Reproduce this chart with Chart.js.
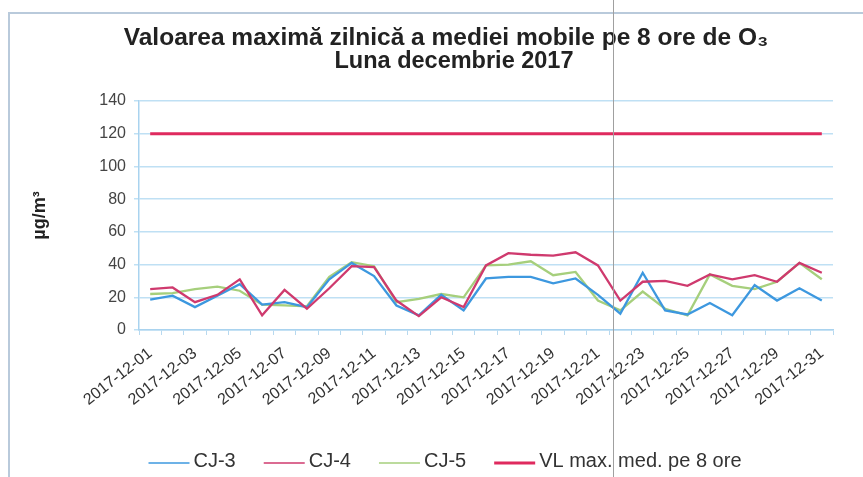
<!DOCTYPE html>
<html><head><meta charset="utf-8">
<script src="https://cdn.jsdelivr.net/npm/chart.js@4.4.0/dist/chart.umd.min.js"></script>
<style>
html,body{margin:0;padding:0;background:#fff;}
#wrap{position:relative;width:863px;height:477px;overflow:hidden;}
canvas{position:absolute;left:0;top:0;}
#frame{position:absolute;left:8px;top:12px;width:870px;height:480px;border-top:2px solid #b9cadb;border-left:2px solid #b9cadb;pointer-events:none;}
#fold{position:absolute;left:613px;top:0;width:1px;height:477px;background:#a0a0a0;pointer-events:none;}
</style></head><body>
<div id="wrap"><canvas id="c" width="863" height="477"></canvas><div id="frame"></div><div id="fold"></div></div>
<script>
const days = ["2017-12-01","2017-12-02","2017-12-03","2017-12-04","2017-12-05","2017-12-06","2017-12-07","2017-12-08","2017-12-09","2017-12-10","2017-12-11","2017-12-12","2017-12-13","2017-12-14","2017-12-15","2017-12-16","2017-12-17","2017-12-18","2017-12-19","2017-12-20","2017-12-21","2017-12-22","2017-12-23","2017-12-24","2017-12-25","2017-12-26","2017-12-27","2017-12-28","2017-12-29","2017-12-30","2017-12-31"];
const cj3 = [18.5,21,14,21,28,15.5,17,14,31,41,33,15,9,21.5,12,31.5,32.5,32.5,28.5,31.5,21.5,10,35,12,9.5,16.5,9,27.5,18,25.5,18];
const cj4 = [25,26,17,21.5,31,9,24.5,13,25.5,39,38.5,18,8.5,20,14,39.5,47,46,45.5,47.5,39.5,18,29.5,30,27,34,31,33.5,29.5,41,35];
const cj5 = [22,22.5,25,26.5,24,15.5,15,14.5,32.5,41.5,39,17,19,22,20,39.5,40,42,33.5,35.5,18,12,23.5,13,9,34,27,25,29.5,41,31];
const vl = [120,120,120,120,120,120,120,120,120,120,120,120,120,120,120,120,120,120,120,120,120,120,120,120,120,120,120,120,120,120,120];
const yTicks = [0,20,40,60,80,100,120,140];
const titleLines = ["Valoarea maximă zilnică a mediei mobile pe 8 ore de O\u2083","Luna decembrie 2017"];
const seriesNames = ["CJ-3","CJ-4","CJ-5","VL max. med. pe 8 ore"];

const FONT = "'Liberation Sans', Arial, sans-serif";

const titlePlugin = {
  id: 'customTitle',
  afterDraw(chart) {
    const ctx = chart.ctx;
    ctx.save();
    ctx.fillStyle = '#222';
    ctx.textAlign = 'center';
    ctx.textBaseline = 'middle';
    ctx.font = "bold 24.5px " + FONT;
    ctx.fillText(titleLines[0], 446, 38);
    ctx.font = "bold 23.5px " + FONT;
    ctx.fillText(titleLines[1], 454, 62);
    ctx.restore();
  }
};

const legendPlugin = {
  id: 'customLegend',
  afterDraw(chart) {
    const ctx = chart.ctx;
    ctx.save();
    ctx.font = "20px " + FONT;
    ctx.textBaseline = 'middle';
    let x = chart.chartArea.left + 9.5;
    const y = 461;
    chart.data.datasets.forEach((ds, i) => {
      ctx.strokeStyle = ds.borderColor;
      ctx.lineWidth = i === 3 ? 3 : 1.5;
      ctx.beginPath();
      ctx.moveTo(x, y + 2);
      ctx.lineTo(x + 41, y + 2);
      ctx.stroke();
      ctx.fillStyle = '#333';
      ctx.fillText(ds.label, x + 45, y);
      x += 45 + ctx.measureText(ds.label).width + 28;
    });
    ctx.restore();
  }
};

new Chart(document.getElementById('c'), {
  type: 'line',
  data: {
    labels: days,
    datasets: [
      {label: seriesNames[0], data: cj3, borderColor: '#3d98df', borderWidth: 2.3, pointRadius: 0, tension: 0, order: 2},
      {label: seriesNames[1], data: cj4, borderColor: '#cf3a6e', borderWidth: 2.3, pointRadius: 0, tension: 0, order: 1},
      {label: seriesNames[2], data: cj5, borderColor: '#a6cf7c', borderWidth: 2.3, pointRadius: 0, tension: 0, order: 3},
      {label: seriesNames[3], data: vl, borderColor: '#df2a5e', borderWidth: 3, pointRadius: 0, tension: 0, order: 0}
    ]
  },
  options: {
    responsive: false,
    animation: false,
    devicePixelRatio: 1,
    layout: {padding: {left: 0, right: 30, top: 101, bottom: 40}},
    plugins: {
      legend: {display: false},
      tooltip: {enabled: false},
      title: {display: false}
    },
    scales: {
      x: {
        type: 'category',
        offset: true,
        grid: {display: true, drawOnChartArea: false, drawTicks: true, tickLength: 5, color: '#b8d9ef', offset: true},
        border: {display: true, color: '#a9d3ef', width: 1.5},
        ticks: {
          autoSkip: false, maxRotation: 38, minRotation: 38,
          color: '#333', font: {family: FONT, size: 16},
          padding: 9,
          callback: function(v, i) { return i % 2 === 0 ? days[i] : ''; }
        },
        afterFit: s => { s.height = 107; }
      },
      y: {
        min: 0, max: 140,
        afterBuildTicks: s => { s.ticks = yTicks.map(v => ({value: v})); },
        grid: {color: '#bfe0f4', lineWidth: 1.5, tickLength: 5},
        border: {display: true, color: '#a9d3ef', width: 1.5},
        ticks: {color: '#444', font: {family: FONT, size: 16}, padding: 8},
        title: {display: true, text: 'µg/m³', color: '#222', font: {family: FONT, size: 18, weight: 'bold'}, padding: {top: 29, bottom: 0}},
        afterFit: s => { s.width = 139; }
      }
    }
  },
  plugins: [titlePlugin, legendPlugin]
});
</script>
</body></html>
